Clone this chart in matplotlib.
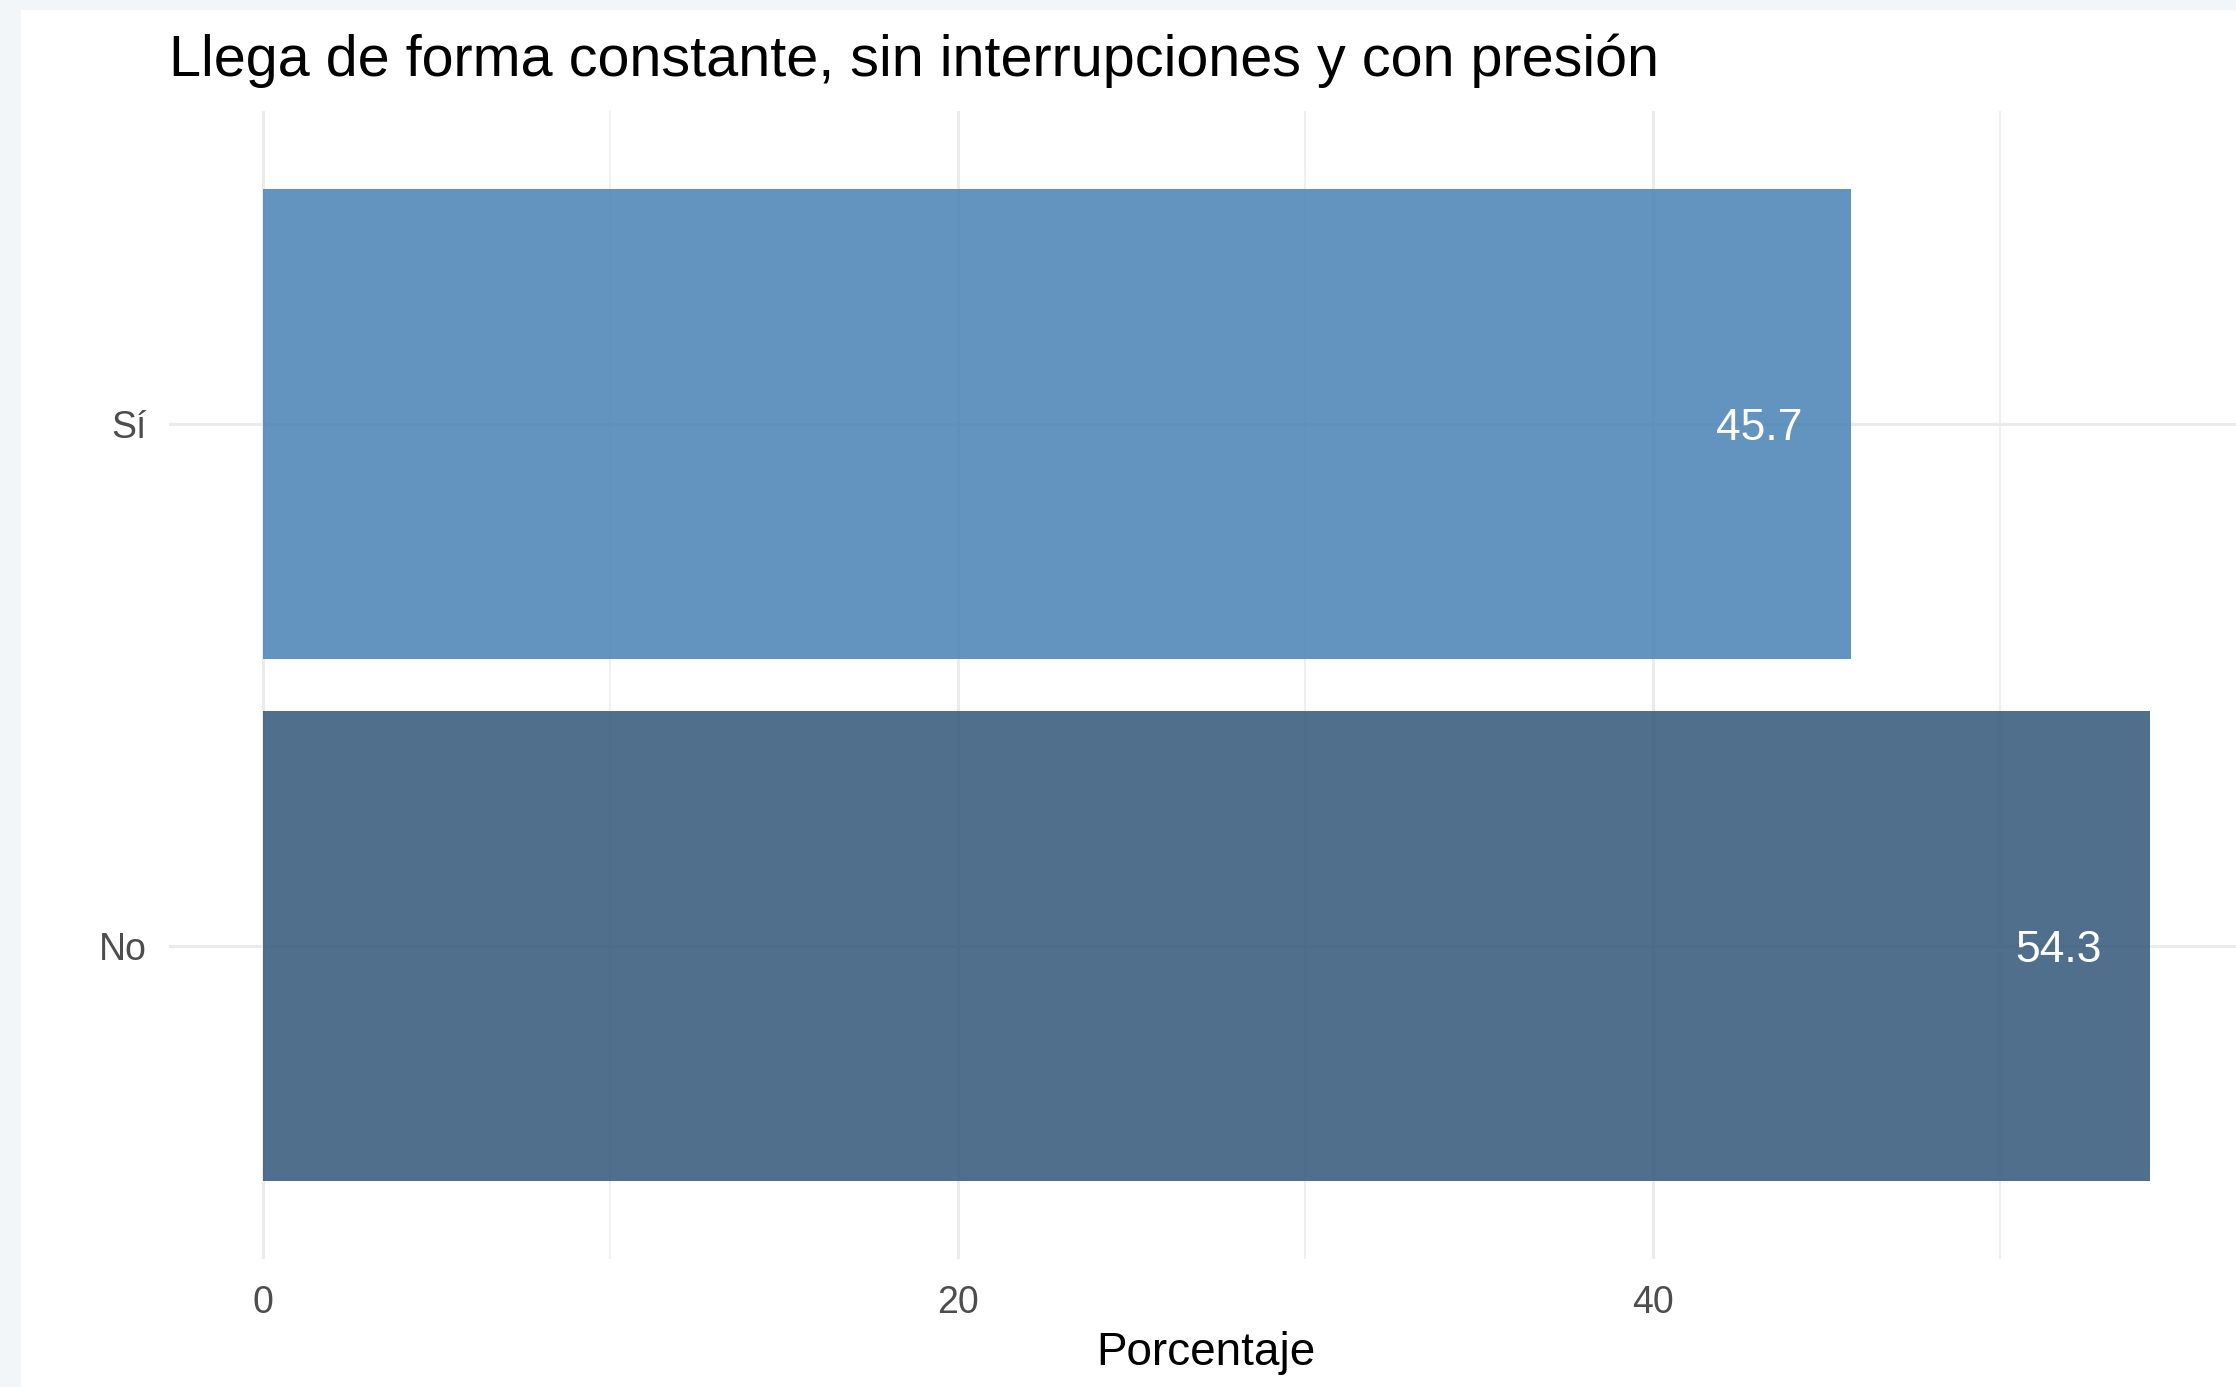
import matplotlib
matplotlib.use("Agg")
import matplotlib.pyplot as plt
from matplotlib.patches import Rectangle

# Datos del gráfico
categorias = ["No", "Sí"]
porcentajes = [54.3, 45.7]
colores = ["#315678", "#4682B4"]
ticks_x = [0, 20, 40]
ticks_x_menores = [10, 30, 50]

titulo = "Llega de forma constante, sin interrupciones y con presión"
etiqueta_x = "Porcentaje"

plt.rcParams["font.family"] = ["Liberation Sans", "DejaVu Sans"]

W, H = 2236, 1387
fig = plt.figure(figsize=(W / 100, H / 100), dpi=100)
fig.patch.set_facecolor("#f2f6f8")
# zona blanca de la captura (borde claro arriba e izquierda)
fig.patches.append(Rectangle((21 / W, 0), 1, 1 - 10 / H, transform=fig.transFigure,
                             facecolor="white", edgecolor="none", zorder=-10))

# panel (ligeramente recortado a la derecha, como en la captura)
izq, der, arr, aba = 168.7, 2244, 111, 1259
ax = fig.add_axes([izq / W, 1 - aba / H, (der - izq) / W, (aba - arr) / H])
ax.set_facecolor("none")

y = list(range(len(categorias)))
ax.barh(y, porcentajes, height=0.9, color=colores, alpha=0.85, zorder=2)

for yi, v in zip(y, porcentajes):
    ax.annotate(f"{v:.1f}", xy=(v, yi), xytext=(-34.5, -3.5), textcoords="offset points",
                ha="right", va="center", color="white", fontsize=32, zorder=3)

ax.set_xlim(-0.05 * max(porcentajes), 1.05 * max(porcentajes))
ax.set_ylim(-0.6, len(categorias) - 0.4)
ax.set_yticks(y)
ax.set_yticklabels(categorias)
ax.set_xticks(ticks_x)
ax.set_xticks(ticks_x_menores, minor=True)

ax.set_axisbelow(True)
ax.grid(which="major", color="#ebebeb", linewidth=2.2)
ax.grid(which="minor", axis="x", color="#ebebeb", linewidth=1.1)
for s in ax.spines.values():
    s.set_visible(False)
ax.tick_params(which="both", length=0)
ax.tick_params(axis="x", pad=19, labelsize=27, labelcolor="#4d4d4d")
ax.tick_params(axis="y", pad=16, labelsize=27, labelcolor="#4d4d4d")

ax.set_xlabel(etiqueta_x, fontsize=33, color="black", labelpad=7)
ax.set_title(titulo, loc="left", fontsize=41.4, color="black", pad=25)

fig.savefig("out.png", dpi=100)
